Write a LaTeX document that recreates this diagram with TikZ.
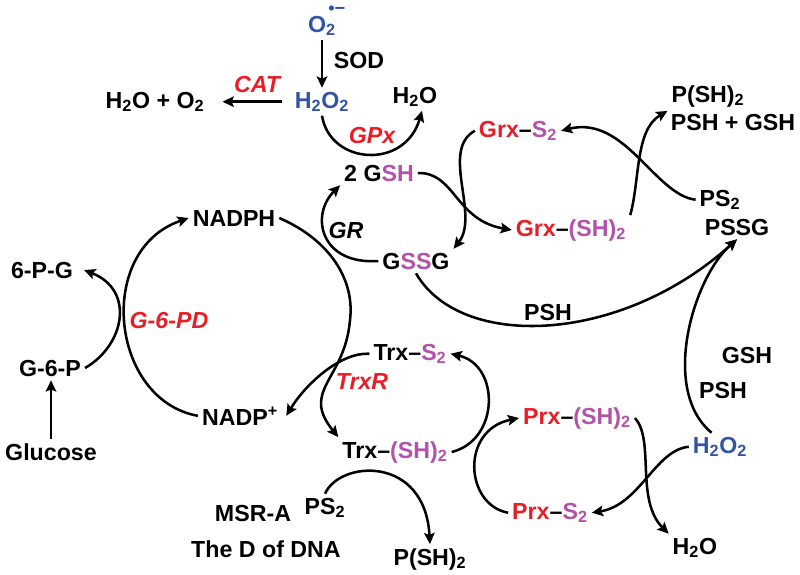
\documentclass[tikz,border=0pt]{standalone}
\usepackage{fontspec}
\setmainfont{Liberation Sans}
\usepackage{xcolor}
\usetikzlibrary{arrows.meta}
\definecolor{rosred}{RGB}{232,30,38}
\definecolor{rosblue}{RGB}{50,84,164}
\definecolor{thiol}{RGB}{178,82,168}
\newcommand{\thl}[1]{\textcolor{thiol}{#1}}
\newcommand{\rd}[1]{\textcolor{rosred}{#1}}

\begin{document}
\begin{tikzpicture}[x=0.025cm, y=-0.025cm, >={Stealth[length=8pt,width=7.5pt,inset=1.5pt]}, line width=1.8pt,
  font=\fontsize{16.5}{19}\selectfont\bfseries,
  every node/.style={anchor=base, inner sep=2pt},
  ital/.style={font=\fontsize{16.5}{19}\selectfont\bfseries\itshape},
  enz/.style={ital, text=rosred},
  ros/.style={text=rosblue}]

\useasboundingbox (0,0) rectangle (800,574);

% top: superoxide, catalase, GPx
\node[ros] (v1) at (322,32) {O\rlap{\kern1.5pt\raisebox{0.75em}{\fontsize{13}{13}\selectfont •−}}\textsubscript{2}};
\node (v2) at (359,68) {SOD};
\node[enz] (v3) at (257,92) {CAT};
\node (v4) at (155,108) {H\textsubscript{2}O + O\textsubscript{2}};
\node[ros] (v5) at (322,108) {H\textsubscript{2}O\textsubscript{2}};
\node[enz] (v6) at (372,143) {GPx};
\node (v7) at (415,103) {H\textsubscript{2}O};
\node (v8) at (379,181) {2 G\thl{SH}};
\node[ital] (v9) at (346,238) {GR};
\node (v10) at (416,269) {G\thl{SS}G};

% NADPH cycle
\node (v11) at (234,226) {NADPH};
\node (v12) at (240,425) {NADP\textsuperscript{+}};
\node[enz] (v13) at (169,328) {G-6-PD};
\node (v14) at (42,278) {6-P-G};
\node (v15) at (50,376) {G-6-P};
\node (v16) at (51,460) {Glucose};

% glutaredoxin
\node (v17) at (518,137) {\rd{Grx}–\thl{S\textsubscript{2}}};
\node (v18) at (571,236) {\rd{Grx}–\thl{(SH)\textsubscript{2}}};
\node (v19) at (708,102) {P(SH)\textsubscript{2}};
\node (v20) at (733,130) {PSH + GSH};
\node (v21) at (720,206) {PS\textsubscript{2}};
\node (v22) at (737,235) {PSSG};
\node (v23) at (548,320) {PSH};
\node (v24) at (747,363) {GSH};
\node (v25) at (723,398) {PSH};

% peroxiredoxin
\node[ros] (v26) at (720,453) {H\textsubscript{2}O\textsubscript{2}};
\node (v27) at (577,424) {\rd{Prx}–\thl{(SH)\textsubscript{2}}};
\node (v28) at (550,519) {\rd{Prx}–\thl{S\textsubscript{2}}};
\node (v29) at (695,554) {H\textsubscript{2}O};

% thioredoxin
\node (v30) at (410,360) {Trx–\thl{S\textsubscript{2}}};
\node[enz] (v31) at (362,389) {TrxR};
\node (v32) at (395,458) {Trx–\thl{(SH)\textsubscript{2}}};
\node (v33) at (325,514) {PS\textsubscript{2}};
\node (v34) at (430,565) {P(SH)\textsubscript{2}};
\node (v35) at (253,521) {MSR-A};
\node (v36) at (266,557) {The D of DNA};

\draw [->] (v1.south -| v5.north) -- (v5.north);
\draw [->] ([xshift=-6pt]v5.west) -- ([xshift=10pt]v4.east);
\draw [->] (v5.south) .. controls (330,165) and (405,170) .. ([xshift=5pt]v7.south);
\draw [->] (v10.west) .. controls (320,265) and (310,215) .. (v8.south west);

\draw [->] (v11.east) .. controls (330,240) and (355,280) .. (350,320)
  .. controls (345,380) and (300,390) .. (v32.north west);
\draw [->] (v30.west) .. controls (340,352) and (305,385) .. ([xshift=3pt]v12.east);
\draw [->] (v12.west) .. controls (110,400) and (95,250) .. (v11.west);
\draw [->] (v15.east) .. controls (125,345) and (135,290) .. ([xshift=5pt]v14.east);
\draw [->] (v16.north) -- (v16.north |- v15.south);

\draw [->] (v8.east) .. controls (455,172) and (455,220) .. (v18.west);
\draw [->] (v17.west) .. controls (440,150) and (480,215) .. (v10.north east);
\draw [->] (v18.north east) .. controls (640,180) and (635,130) .. (v19.south west);
\draw [->] (v21.west) .. controls (655,195) and (625,115) .. (v17.east);

\draw [->] (v10.south) .. controls (460,350) and (620,345) .. (v22.south);
\draw [->] ([xshift=-6pt]v26.north) .. controls (660,390) and (693,278) .. (v22.south);

\draw [->] (v26.west) .. controls (655,450) and (640,505) .. (v28.east);
\draw [->] (v27.east) .. controls (655,440) and (635,500) .. (v29.north west);
\draw [->] (v32.east) .. controls (500,440) and (500,365) .. (v30.east);
\draw [->] (v28.west) .. controls (465,505) and (460,430) .. (v27.west);
\draw [->] (v33.north) .. controls (340,460) and (425,455) .. (v34.north);

\end{tikzpicture}
\end{document}
